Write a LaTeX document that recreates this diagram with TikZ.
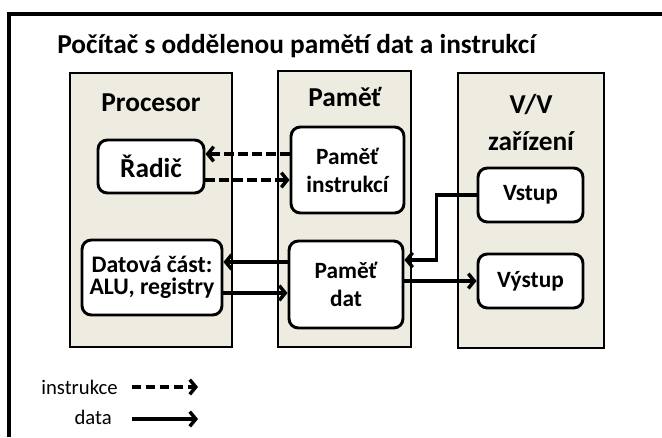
\documentclass[tikz,border=0pt]{standalone}
\usepackage{fontspec}
\setmainfont{Carlito}
\usetikzlibrary{arrows.meta}
\definecolor{bgbeige}{HTML}{EEECE1}

\begin{document}
\begin{tikzpicture}[x=0.75pt, y=-0.75pt]%
	\tikzstyle{unit}=[rectangle, draw=black, line width=2pt, fill=bgbeige, inner sep=0pt];
	\tikzstyle{part}=[rectangle, rounded corners=7pt, draw=black, line width=2.2pt, fill=white, align=center, font=\fontsize{17.5}{21}\selectfont\bfseries, inner sep=0pt];
	\tikzstyle{head}=[align=center, font=\fontsize{20.5}{24}\selectfont\bfseries];
	\tikzstyle{instr}=[line width=2.6pt, dash pattern=on 7pt off 3.5pt, -{Straight Barb[length=4.5pt, width=11pt]}];
	\tikzstyle{data}=[line width=2.6pt, -{Straight Barb[length=4.5pt, width=11pt]}];
	\useasboundingbox (0, 0) rectangle (662, 437);
	% frame
	\draw[line width=2.4pt] (9, 437) -- (9, 14) -- (662, 14);
	\node[anchor=west, inner sep=0pt, font=\fontsize{20.5}{24}\selectfont\bfseries] (title) at (57, 46) {Počítač s oddělenou pamětí dat a instrukcí};
	% units
	\node[unit, minimum width=121.5pt, minimum height=205.5pt] (cpu) at (151, 210) {};
	\node[unit, minimum width=99.75pt, minimum height=207pt] (mem) at (344.5, 209) {};
	\node[unit, minimum width=109.5pt, minimum height=206.25pt] (io) at (531, 210.5) {};
	\node[head] (cpulabel) at (151, 103) {Procesor};
	\node[head] (memlabel) at (345, 97) {Paměť};
	\node[head] (iolabel) at (531, 105) {V/V};
	\node[head] (iolabel2) at (531, 141) {zařízení};
	% parts
	\node[part, minimum width=79.5pt, minimum height=39.75pt, font=\fontsize{20.5}{24}\selectfont\bfseries] (radic) at (151, 166.5) {Řadič};
	\node[part, minimum width=84.75pt, minimum height=64.5pt] (pi) at (347.5, 170) {Paměť\\instrukcí};
	\node[part, minimum width=105pt, minimum height=56.25pt, font=\fontsize{17.8}{16.5}\selectfont\bfseries] (alu) at (152, 277.5) {Datová část:\\ALU, registry};
	\node[part, minimum width=85.5pt, minimum height=65.25pt] (pd) at (346, 284.5) {Paměť\\dat};
	\node[part, minimum width=78.75pt, minimum height=40.5pt] (vstup) at (530.5, 195) {Vstup};
	\node[part, minimum width=78.75pt, minimum height=40.5pt] (vystup) at (530.5, 281) {Výstup};
	% connectors
	\draw[instr] (pi.west |- 0, 154) -- (radic.east |- 0, 154);
	\draw[instr] (radic.east |- 0, 180) -- (pi.west |- 0, 180);
	\draw[data] (pd.west |- 0, 262) -- (alu.east |- 0, 262);
	\draw[data] (alu.east |- 0, 293) -- (pd.west |- 0, 293);
	\draw[data] (vstup.west) -- ++(-40, 0) |- (pd.east |- 0, 260);
	\draw[data] (pd.east |- vystup.west) -- (vystup.west);
	% legend
	\node[anchor=east, inner sep=0pt, font=\fontsize{15.5}{18}\selectfont] (leginstr) at (118, 387) {instrukce};
	\node[anchor=east, inner sep=0pt, font=\fontsize{15.5}{18}\selectfont] (legdata) at (112, 417) {data};
	\coordinate (li1) at (132, 387);
	\coordinate (li2) at (198, 387);
	\coordinate (ld1) at (132, 419);
	\coordinate (ld2) at (198, 419);
	\draw[instr] (li1) -- (li2);
	\draw[data] (ld1) -- (ld2);
\end{tikzpicture}
\end{document}
